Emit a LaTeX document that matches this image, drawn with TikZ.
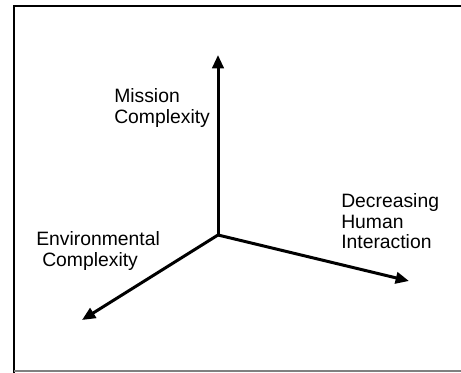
\documentclass[tikz,border=0pt]{standalone}
\usepackage{fontspec}
\setmainfont{Liberation Sans}
\usetikzlibrary{arrows.meta}
\begin{document}
\begin{tikzpicture}[x=0.75pt,y=-0.75pt,
  axis/.style={line width=2.25pt,-{Triangle[length=10pt,width=8.5pt]}},
  lbl/.style={font=\fontsize{14.5pt}{15.4pt}\selectfont,align=left,inner sep=0pt,anchor=north west}]
\useasboundingbox (0,0) rectangle (461,373);
\fill[white] (0,0) rectangle (461,373);
\draw[line width=1.5pt] (14,373) -- (14,6) -- (461,6);
\draw[line width=1.2pt,gray] (14,371) -- (461,371);
\coordinate (o) at (218,235);
\coordinate (up) at (218,55);
\coordinate (dl) at (82,320);
\coordinate (dr) at (409,281);
\draw[axis] (o) -- (up);
\draw[axis] (o) -- (dl);
\draw[axis] (o) -- (dr);
\node[lbl] (mc) at (114,88.5) {Mission\\Complexity};
\node[lbl] (ec) at (36,231.5) {Environmental\\\hspace*{4.5pt}Complexity};
\node[lbl] (dh) at (341,193.5) {Decreasing\\Human\\Interaction};
\end{tikzpicture}
\end{document}
